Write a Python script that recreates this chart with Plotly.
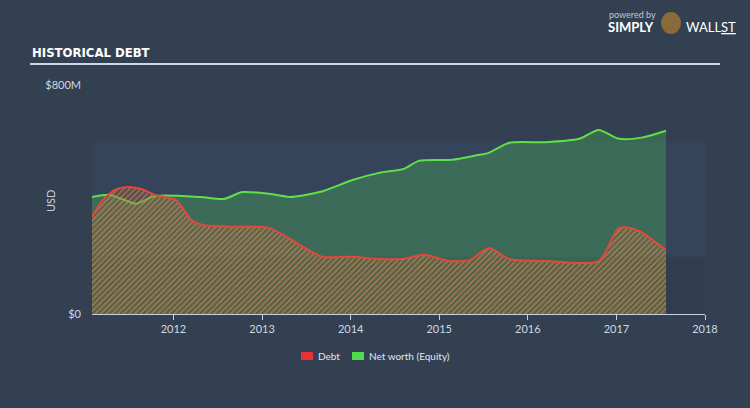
import plotly.graph_objects as go

# ---- data (USD millions) ----
debt_x = [2011.08, 2011.2, 2011.35, 2011.5, 2011.65, 2011.79, 2012.03, 2012.2, 2012.33, 2012.7,
          2013.08, 2013.39, 2013.68, 2014.02, 2014.32, 2014.6, 2014.83, 2015.11, 2015.35,
          2015.56, 2015.79, 2016.2, 2016.8, 2017.03, 2017.25, 2017.56]
debt_y = [339, 398, 435, 444, 435, 416, 398, 329, 311, 305,
          301, 248, 200, 200, 192, 193, 207, 185, 189,
          231, 192, 185, 185, 301, 291, 223]

eq_x = [2011.08, 2011.28, 2011.45, 2011.58, 2011.79, 2012.3, 2012.57, 2012.78, 2013.08, 2013.31,
        2013.65, 2014.02, 2014.32, 2014.6, 2014.77, 2015.15, 2015.4, 2015.56, 2015.79,
        2016.2, 2016.58, 2016.8, 2017.03, 2017.3, 2017.56]
eq_y = [409, 416, 398, 385, 412, 409, 402, 426, 420, 409,
        426, 468, 493, 507, 535, 539, 553, 563, 598,
        600, 612, 643, 612, 617, 640]

year_ticks = [2012, 2013, 2014, 2015, 2016, 2017, 2018]
y_ticks = [0, 800]
y_ticktext = ["$0", "$800M"]
legend_names = ["Debt", "Net worth (Equity)"]
legend_colors = ["#e8323a", "#4fdc4f"]

W, H = 750, 408
L, R, T, B = 92, 45, 85, 94
PW, PH = W - L - R, H - T - B

def px(x):
    return (x - L) / PW

def py(y):
    return (H - B - y) / PH

BG = "#334051"
FONT = "Lato"

fig = go.Figure()

fig.add_trace(go.Scatter(
    x=eq_x, y=eq_y, mode="lines", line=dict(color="#5fe04a", width=2, shape="spline", smoothing=0.7),
    fill="tozeroy", fillcolor="rgba(78,200,90,0.30)", showlegend=False, hoverinfo="skip"))

fig.add_trace(go.Scatter(
    x=debt_x, y=debt_y, mode="lines", line=dict(color="#e5473c", width=2, shape="spline", smoothing=0.7),
    fill="tozeroy", fillcolor="rgba(0,0,0,0)",
    fillpattern=dict(shape="/", fgcolor="#e0925a", bgcolor="rgba(115,70,45,0.30)", size=4, solidity=0.55),
    showlegend=False, hoverinfo="skip"))

shapes = [
    dict(type="rect", xref="paper", yref="y", x0=0, x1=1, y0=200, y1=600,
         fillcolor="#35445a", line=dict(width=0), layer="below"),
    dict(type="rect", xref="paper", yref="y", x0=0, x1=1, y0=0, y1=200,
         fillcolor="#303d4e", line=dict(width=0), layer="below"),
    dict(type="line", xref="paper", yref="paper", x0=px(30), x1=px(720), y0=py(64), y1=py(64),
         line=dict(color="#c9d9ea", width=2)),
    dict(type="circle", xref="paper", yref="paper", x0=px(661), x1=px(681), y0=py(34), y1=py(12),
         fillcolor="#8a6a3a", line=dict(width=0)),
]

annotations = [
    dict(text="<b>HISTORICAL DEBT</b>", x=px(30), y=py(53), xref="paper", yref="paper",
         xanchor="left", yanchor="middle", showarrow=False,
         font=dict(family="DejaVu Sans Condensed", size=13, color="#ffffff")),
    dict(text="USD", x=px(50), y=py(201), xref="paper", yref="paper", textangle=-90,
         xanchor="center", yanchor="middle", showarrow=False,
         font=dict(family=FONT, size=11, color="#c8d0da")),
    dict(text="powered by", x=px(607), y=py(14), xref="paper", yref="paper",
         xanchor="left", yanchor="middle", showarrow=False,
         font=dict(family=FONT, size=9, color="#c0c8d2")),
    dict(text="<b>SIMPLY</b>", x=px(606), y=py(27), xref="paper", yref="paper",
         xanchor="left", yanchor="middle", showarrow=False,
         font=dict(family=FONT, size=13, color="#ffffff")),
    dict(text="WALL<u>ST</u>", x=px(684), y=py(27), xref="paper", yref="paper",
         xanchor="left", yanchor="middle", showarrow=False,
         font=dict(family=FONT, size=13, color="#ffffff")),
]

# manual legend
leg_sq_x = [301, 352]
leg_tx_x = [316, 367]
for name, col, sx, tx in zip(legend_names, legend_colors, leg_sq_x, leg_tx_x):
    shapes.append(dict(type="rect", xref="paper", yref="paper", x0=px(sx), x1=px(sx + 12),
                       y0=py(360), y1=py(352), fillcolor=col, line=dict(width=0)))
    annotations.append(dict(text=name, x=px(tx), y=py(356), xref="paper", yref="paper",
                            xanchor="left", yanchor="middle", showarrow=False,
                            font=dict(family=FONT, size=10, color="#e0e6ee")))

fig.update_layout(
    width=W, height=H,
    margin=dict(l=L, r=R, t=T, b=B),
    paper_bgcolor=BG, plot_bgcolor=BG,
    font=dict(family=FONT, size=11, color="#d0d8e2"),
    shapes=shapes, annotations=annotations, showlegend=False,
    xaxis=dict(range=[2011.08, 2018.0], tickvals=year_ticks, ticktext=[str(t) for t in year_ticks],
               showgrid=False, zeroline=False, showline=True, linecolor="#c8d0da", linewidth=1,
               ticks="outside", ticklen=5, tickcolor="#c8d0da", tickfont=dict(size=11, color="#d0d8e2")),
    yaxis=dict(range=[0, 800], tickvals=y_ticks, ticktext=y_ticktext, showgrid=False, zeroline=False,
               showline=False, ticks="", ticklabelstandoff=10, tickfont=dict(size=11, color="#d0d8e2")),
)

fig.write_html("out.html")
